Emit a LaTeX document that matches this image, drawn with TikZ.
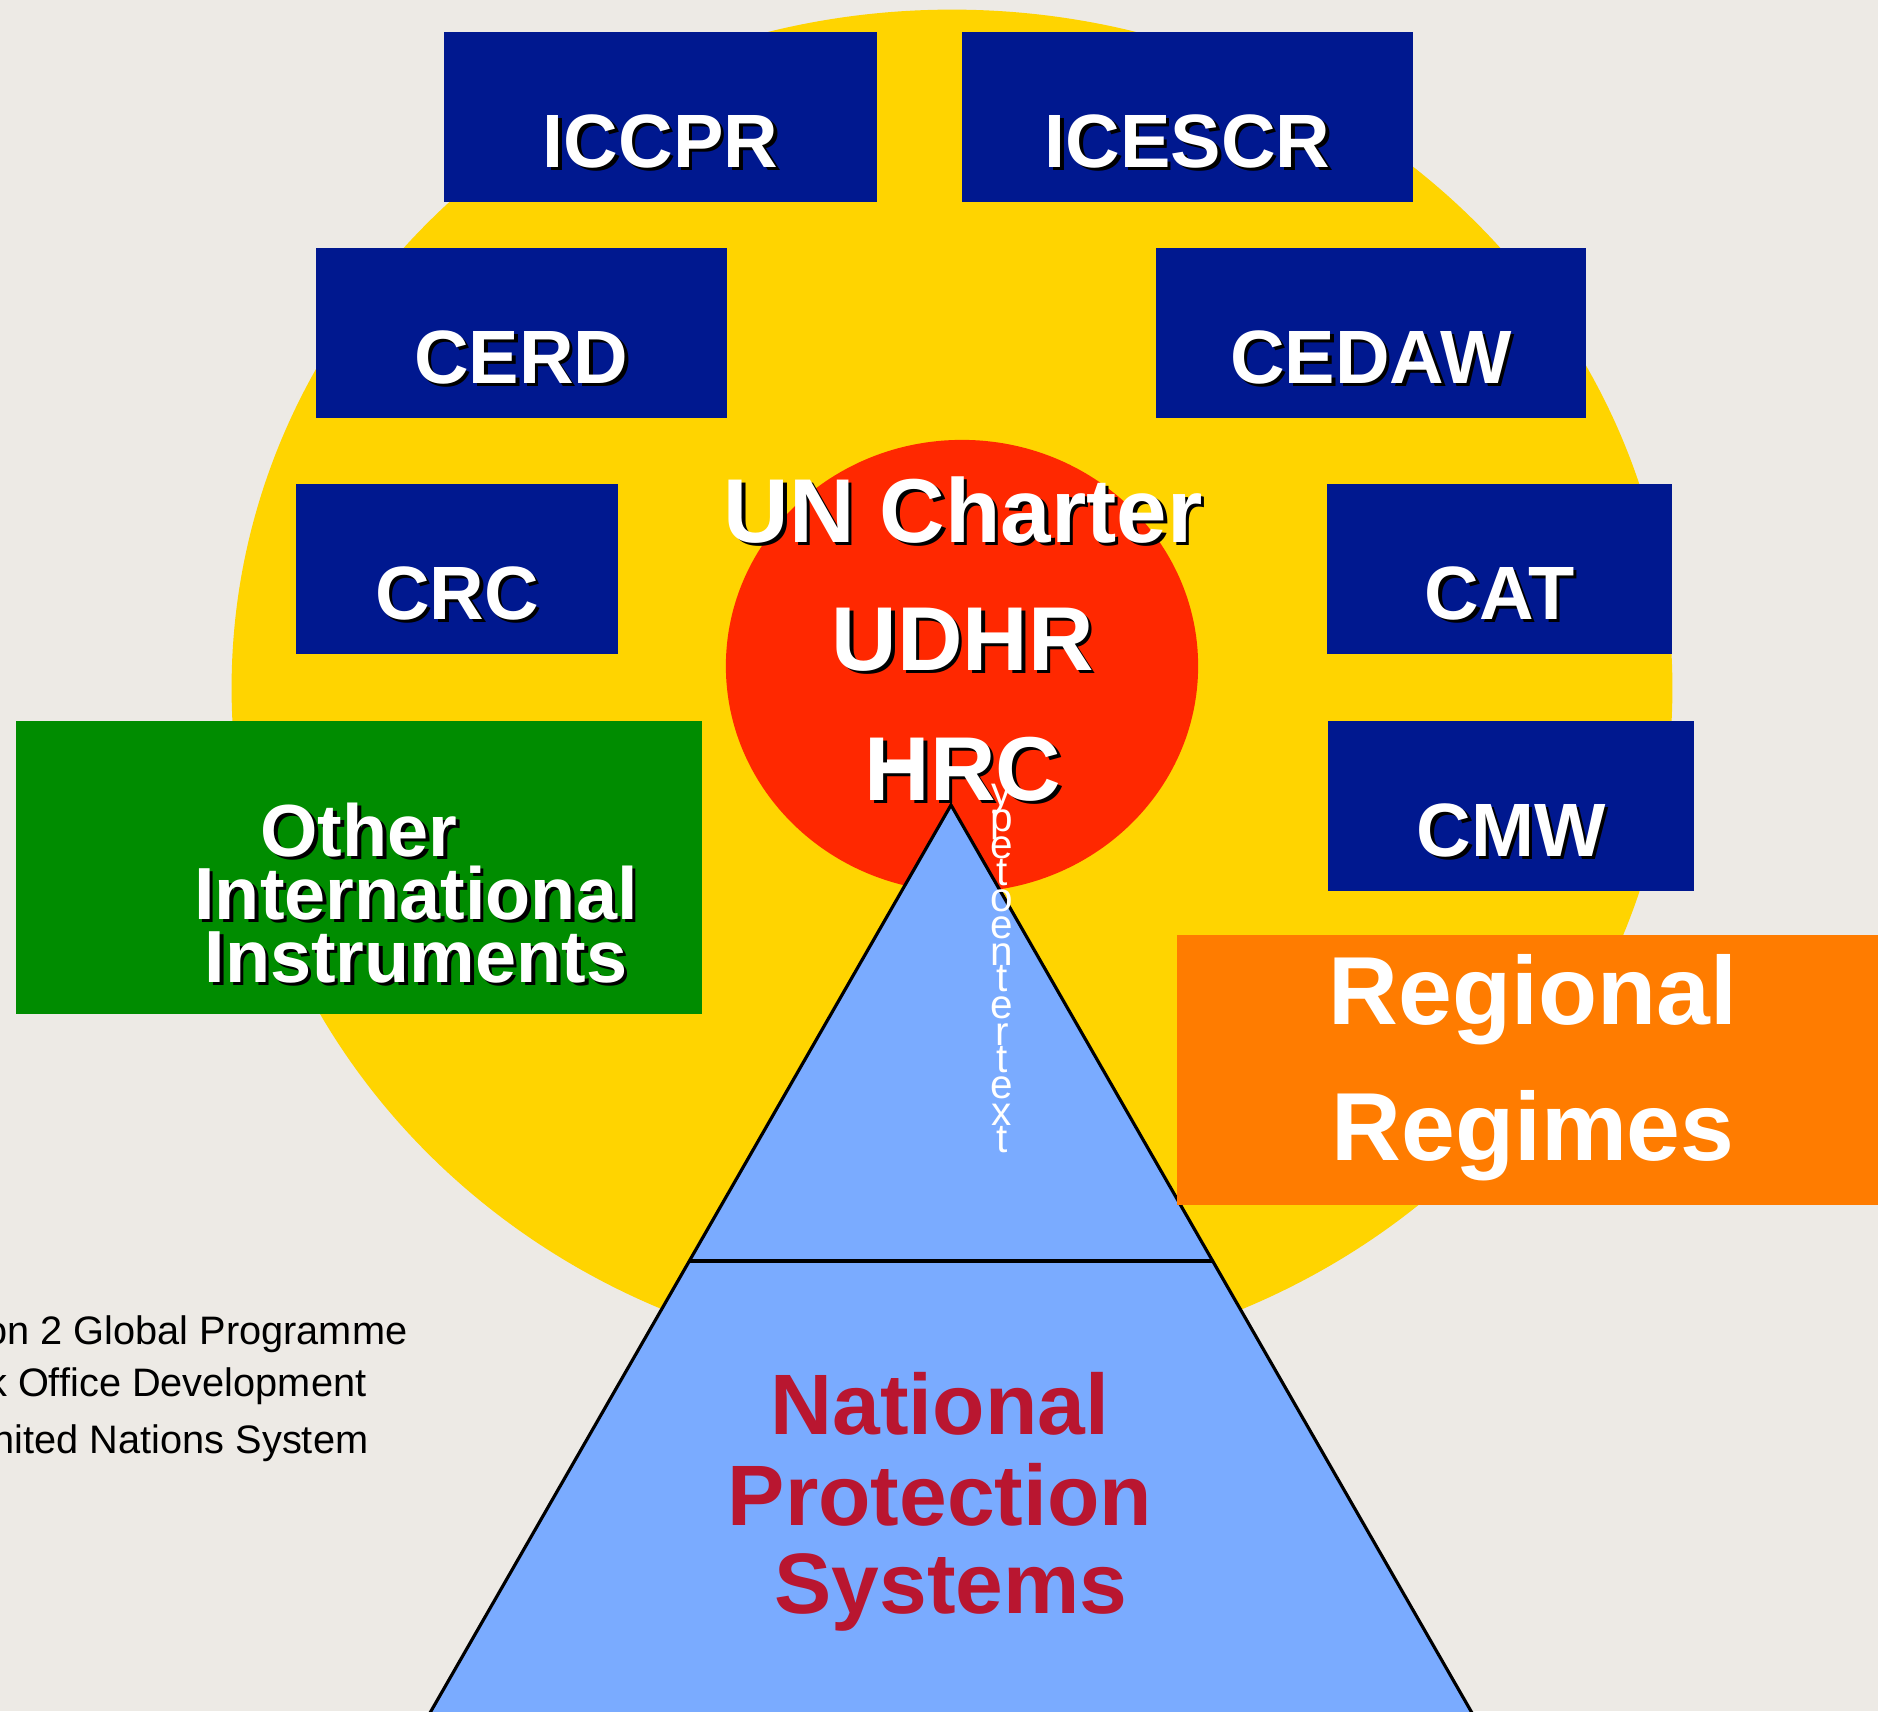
\documentclass[tikz,border=0pt]{standalone}
\usepackage{fontspec}
\setmainfont{Liberation Sans}
\usetikzlibrary{positioning}

\definecolor{paper}{RGB}{237,234,229}
\definecolor{sunyellow}{RGB}{255,212,0}
\definecolor{corered}{RGB}{255,40,0}
\definecolor{treatyblue}{RGB}{0,24,143}
\definecolor{othergreen}{RGB}{0,140,0}
\definecolor{regionorange}{RGB}{255,124,0}
\definecolor{pyramidblue}{RGB}{122,171,255}
\definecolor{nationalred}{RGB}{185,22,48}

\tikzset{
	treaty/.style={fill=treatyblue, inner sep=0pt, minimum height=1.70cm},
	lbl/.style={anchor=base, inner sep=0pt},
	treatytxt/.style={font=\fontsize{21.5}{26}\selectfont\bfseries, yshift=-0.5cm},
	coretxt/.style={font=\fontsize{25.8}{31}\selectfont\bfseries},
	othertxt/.style={font=\fontsize{21}{25}\selectfont\bfseries},
	regiontxt/.style={lbl, white, font=\fontsize{27.5}{33}\selectfont\bfseries},
	nationaltxt/.style={lbl, nationalred, font=\fontsize{24.4}{29}\selectfont\bfseries},
	notetxt/.style={anchor=base east, inner sep=0pt, font=\fontsize{11.3}{13}\selectfont},
	vtxt/.style={lbl, white, text height=1.2ex, text depth=0pt, font=\fontsize{11.5}{12}\selectfont}
}

% white label with a black drop shadow
\newcommand{\castlabel}[4][]{%
	\node[lbl, #1, text=black, xshift=0.035cm, yshift=-0.035cm] at (#3) {#4};
	\node[lbl, #1, text=white] (#2) at (#3) {#4};}

\begin{document}
\begin{tikzpicture}[x=0.01cm, y=-0.01cm]
	\fill[paper] (0,0) rectangle (1878,1711);
	\useasboundingbox (0,0) rectangle (1878,1711);

	% international system
	\fill[sunyellow] (952,688) ellipse [x radius=7.2cm, y radius=6.78cm];

	\node[treaty, minimum width=4.33cm] (iccpr) at (660.5,117) {};
	\node[treaty, minimum width=4.51cm] (icescr) at (1187.5,117) {};
	\node[treaty, minimum width=4.11cm] (cerd) at (521.5,333) {};
	\node[treaty, minimum width=4.30cm] (cedaw) at (1371,333) {};
	\node[treaty, minimum width=3.22cm] (crc) at (457,569) {};
	\node[treaty, minimum width=3.45cm] (cat) at (1499.5,569) {};
	\node[treaty, minimum width=3.66cm] (cmw) at (1511,806) {};

	\castlabel[treatytxt]{iccpr-t}{iccpr}{ICCPR}
	\castlabel[treatytxt]{icescr-t}{icescr}{ICESCR}
	\castlabel[treatytxt]{cerd-t}{cerd}{CERD}
	\castlabel[treatytxt]{cedaw-t}{cedaw}{CEDAW}
	\castlabel[treatytxt]{crc-t}{crc}{CRC}
	\castlabel[treatytxt]{cat-t}{cat}{CAT}
	\castlabel[treatytxt]{cmw-t}{cmw}{CMW}

	% core: charter, declaration, council
	\fill[corered] (962,666) ellipse [x radius=2.36cm, y radius=2.26cm];
	\coordinate (charter) at (963,542);
	\coordinate (udhr) at (963,670);
	\coordinate (hrc) at (963,800);
	\castlabel[coretxt]{charter-t}{charter}{UN Charter}
	\castlabel[coretxt]{udhr-t}{udhr}{UDHR}
	\castlabel[coretxt]{hrc-t}{hrc}{HRC}

	% national pyramid
	\coordinate (apex) at (951,805);
	\coordinate (baseL) at (380,1800);
	\coordinate (baseR) at (1522,1800);
	\coordinate (tierL) at (689.5,1261);
	\coordinate (tierR) at (1212.5,1261);
	\filldraw[fill=pyramidblue, draw=black, line width=0.9pt, line join=miter] (apex) -- (baseR) -- (baseL) -- cycle;
	\draw[line width=0.9pt] (tierL) -- (tierR);

	\node[vtxt, anchor=center, rotate=-90] (vT) at (899,762) {T};
	\foreach \ch [count=\i] in {y,p,e,t,o,e,n,t,e,r,t,e,x,t}
		\node[vtxt] (v\i) at (1002,{805+26.7*(\i-1)}) {\ch};

	% other instruments
	\node[fill=othergreen, inner sep=0pt, minimum width=6.86cm, minimum height=2.93cm] (other) at (359,867.5) {};
	\coordinate (other1) at (359,856);
	\coordinate (other2) at (416,919);
	\coordinate (other3) at (416,982);
	\castlabel[othertxt]{other-a}{other1}{Other}
	\castlabel[othertxt]{other-b}{other2}{International}
	\castlabel[othertxt]{other-c}{other3}{Instruments}

	% regional regimes
	\node[fill=regionorange, inner sep=0pt, minimum width=7.23cm, minimum height=2.70cm] (regional) at (1538.5,1070) {};
	\node[regiontxt] (regional-a) at (1533,1024) {Regional};
	\node[regiontxt] (regional-b) at (1533,1160) {Regimes};

	\node[nationaltxt] (national-a) at (940,1434) {National};
	\node[nationaltxt] (national-b) at (940,1525) {Protection};
	\node[nationaltxt] (national-c) at (951,1613) {Systems};

	% footer text, cut at the page edge
	\node[notetxt] (note1) at (408,1344) {on 2 Global Programme};
	\node[notetxt] (note2) at (367,1396) {k Office Development};
	\node[notetxt] (note3) at (369,1453) {nited Nations System};
\end{tikzpicture}
\end{document}
